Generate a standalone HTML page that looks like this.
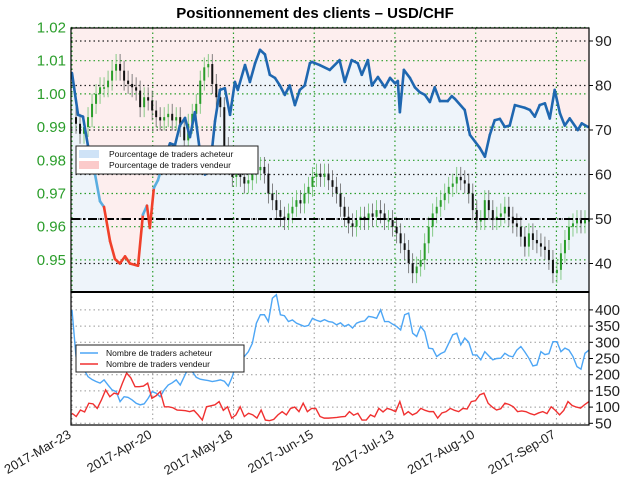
<!DOCTYPE html>
<html><head><meta charset="utf-8"><style>
body{margin:0;background:#fff;}
svg{display:block;font-family:"Liberation Sans",sans-serif;}
</style></head><body>
<svg id="c" width="624" height="488" viewBox="0 0 624 488" xmlns="http://www.w3.org/2000/svg">
<text x="315" y="18" text-anchor="middle" font-size="15" font-weight="bold">Positionnement des clients – USD/CHF</text>
<g id="g"></g>
</svg>
<script>
const dateLabels=["2017-Mar-23","2017-Apr-20","2017-May-18","2017-Jun-15","2017-Jul-13","2017-Aug-10","2017-Sep-07"];
const dateDays=[0,28,56,84,112,140,168];
const priceTicks=[1.02,1.01,1.00,0.99,0.98,0.97,0.96,0.95];
const pctTicks=[90,80,70,60,50,40];
const cntTicks=[400,350,300,250,200,150,100,50];
const closes=[.993,.991,.988,.990,.993,.997,1.000,1.002,1.002,1.004,1.007,1.009,1.007,1.004,1.003,1.002,1.001,.996,.999,.998,.995,.993,.992,.993,.994,.992,.993,.990,.986,.991,.994,.997,1.004,1.008,1.009,1.003,.999,.996,.984,.979,.975,.976,.975,.973,.974,.976,.977,.978,.976,.970,.968,.965,.963,.962,.964,.966,.968,.967,.970,.972,.975,.976,.975,.976,.974,.972,.970,.966,.963,.961,.960,.962,.963,.962,.964,.963,.965,.964,.962,.962,.960,.958,.955,.953,.949,.946,.948,.950,.955,.960,.964,.966,.968,.970,.972,.973,.975,.974,.973,.970,.965,.962,.962,.968,.965,.962,.963,.964,.966,.963,.961,.960,.957,.954,.958,.956,.955,.954,.953,.950,.946,.947,.952,.956,.960,.961,.962,.961,.962,.962];
const pctDays=[0,2.1,3.8,5.5,8,9.7,11.1,13.2,14.9,16.6,18.4,20.1,22.9,24.6,26,27,28.4,29.8,32.2,34,35.7,37.4,39.2,40.9,42.6,44.4,46.1,47.8,49.6,51.3,53,54.8,56.5,57.5,60,61.7,63.5,65.2,66.9,68.6,70.4,72.1,73.8,75.5,77.3,79,80.7,82.5,83.2,85.9,89.4,92.8,94.6,97,99.1,100.5,102.6,104,106.1,108.5,110.3,112,113,113.7,115.1,117.2,118.9,120.6,122.4,124.1,125.8,127.6,130.3,131.7,132.8,136.2,138,141.4,143.2,144.9,146.6,148.4,150.1,151.8,153.6,157,158.8,160.5,162.2,164,165.7,167.4,169.2,170.9,172.6,175.4,176.8,178.9];
const pctLong=[82.8,73.4,73,66.6,60,54,52.7,45,41,40,41.6,40,39.5,51,53,48,57,58.7,64,67,66.6,71,72.7,68.4,74,65,60,61,72,79,79.4,73.4,80.8,79,84.6,80.8,85,88,87,82.4,81.7,80,77.9,80,75.6,79,80,85,85.3,84.6,83.5,85.7,80.8,85.7,85,82.4,85.7,80,81.9,79.6,81.7,80.5,81,74,83.5,81.7,79.6,78.5,77.9,76.3,79.6,76.5,76.5,77.6,77,74.5,68.9,66,64,68.9,72.2,72.5,70.7,71,75.6,75,74.5,73,75.6,76,72.6,79,73.8,71,72.6,70,71.5,70.7];
const buyers=[400,256,230,215,194,185,179,174,184,168,153,148,117,132,130,122,112,107,110,127,148,143,132,153,168,175,184,168,194,220,210,192,186,184,182,179,181,184,180,165,194,235,246,256,271,297,359,385,385,364,436,447,385,382,364,369,359,354,349,352,374,368,364,370,364,362,354,360,349,355,344,359,364,366,380,378,374,400,364,364,356,349,338,385,390,328,318,349,333,282,280,256,265,271,297,323,328,292,313,300,261,261,246,271,258,246,250,251,266,258,255,276,287,270,251,227,230,271,262,265,302,302,271,282,276,256,225,217,266,276];
const sellers=[81,71,91,85,112,110,96,122,153,132,143,140,174,205,190,163,163,165,174,127,135,148,101,101,98,91,90,89,86,90,76,60,101,104,107,117,90,101,66,76,101,71,81,76,66,91,60,58,62,76,86,76,96,100,86,112,86,96,96,71,66,66,67,68,70,71,86,75,81,60,60,76,70,96,85,96,92,86,117,76,86,76,82,96,90,86,86,66,82,86,96,90,86,96,94,117,120,138,143,112,100,91,95,112,108,101,86,88,86,80,76,82,86,80,101,90,76,90,117,105,100,97,108,117];

const L=71,R=589,T=28,M=292,B=425,DAYS=179.3;
const xDay=d=>L+1+d*(R-L-1)/DAYS;
const xIdx=(i,n)=>xDay(i*DAYS/(n-1));
const yPrice=p=>27.5+(1.02-p)/0.01*33.2;
const yPct=v=>219-(v-50)*4.45;
const yCnt=v=>423.3-(v-50)*0.324;
const g=document.getElementById('g');
const NS="http://www.w3.org/2000/svg";
function mk(tag,attrs,parent){const e=document.createElementNS(NS,tag);for(const k in attrs)e.setAttribute(k,attrs[k]);(parent||g).appendChild(e);return e;}

let up=`M${xDay(pctDays[0])},${T}`,dn=`M${xDay(pctDays[0])},${M}`;
pctLong.forEach((v,i)=>{const x=xDay(pctDays[i]),y=yPct(v);up+=` L${x},${y}`;dn+=` L${x},${y}`;});
up+=` L${R},${T} Z`;dn+=` L${R},${M} Z`;
let e=mk('path',{d:up,fill:'#fdeeee'});

e=mk('path',{d:dn,fill:'#eef4fa'});


priceTicks.forEach(p=>{const y=yPrice(p);
 e=mk('line',{x1:L,x2:R,y1:y,y2:y,stroke:'#2a9d2a','stroke-width':1.2,'stroke-dasharray':'1.5,3'});
 
 e=mk('text',{x:66,y:y+5,'text-anchor':'end','font-size':15,fill:'#2a9d2a'});e.textContent=p.toFixed(2);
 
});
pctTicks.forEach(v=>{const y=yPct(v);
 e=mk('line',{x1:L,x2:R,y1:y,y2:y,stroke:'#222','stroke-width':1.2,'stroke-dasharray':'1.5,3'});
 
 mk('line',{x1:R,x2:R+4,y1:y,y2:y,stroke:'#000'});
 e=mk('text',{x:595,y:y+5,'font-size':15,fill:'#222'});e.textContent=v;
 
});
dateDays.forEach((d,i)=>{const x=xDay(d);
 e=mk('line',{x1:x,x2:x,y1:T,y2:M,stroke:'#2a9d2a','stroke-width':1.2,'stroke-dasharray':'1.5,3'});
 
 e=mk('line',{x1:x,x2:x,y1:M,y2:B,stroke:'#999','stroke-width':1,'stroke-dasharray':'1.5,3'});
 
 e=mk('text',{x:x,y:437,'text-anchor':'end','font-size':13,fill:'#222',transform:`rotate(-30 ${x} 437)`});e.textContent=dateLabels[i];
 
});
cntTicks.forEach(v=>{const y=yCnt(v);
 e=mk('line',{x1:L,x2:R,y1:y,y2:y,stroke:'#999','stroke-width':1,'stroke-dasharray':'1.5,3'});
 
 mk('line',{x1:R,x2:R+4,y1:y,y2:y,stroke:'#000'});
 e=mk('text',{x:595,y:y+5,'font-size':15,fill:'#222'});e.textContent=v;
 
});

closes.forEach((c,i)=>{if(i===0)return;const o=closes[i-1];const x=xIdx(i,closes.length);
 const col=c>=o?'#2a9d2a':'#111';
 const hi=Math.max(o,c)+0.003,lo=Math.min(o,c)-0.003;
 e=mk('line',{x1:x,x2:x,y1:yPrice(hi),y2:yPrice(lo),stroke:col==='#111'?'#666':'#6cc06c','stroke-width':0.8});
 
 const y1=yPrice(Math.max(o,c)),y2=yPrice(Math.min(o,c));
 e=mk('rect',{x:x-1,y:y1,width:2,height:Math.max(1.5,y2-y1),fill:col});
 
});
e=mk('line',{x1:L,x2:R,y1:yPct(50),y2:yPct(50),stroke:'#000','stroke-width':2,'stroke-dasharray':'9,3,2,3'});

for(let i=1;i<pctLong.length;i++){const a=pctLong[i-1],b=pctLong[i];
 const col=(Math.min(a,b)<49.5)?'#f0402a':(Math.min(a,b)<60?'#5aaee0':'#1f67b0');
 e=mk('line',{x1:xDay(pctDays[i-1]),y1:yPct(a),x2:xDay(pctDays[i]),y2:yPct(b),stroke:col,'stroke-width':2.6,'stroke-linecap':'round'});
 
}
function poly(arr,col,name){let d='';arr.forEach((v,i)=>{d+=(i?' L':'M')+xIdx(i,arr.length)+','+yCnt(v);});
 const p=mk('path',{d:d,fill:'none',stroke:col,'stroke-width':1.4});
 }
poly(buyers,'#4da6f5','buyers-line');
poly(sellers,'#f03030','sellers-line');

e=mk('rect',{x:L,y:T,width:R-L,height:M-T,fill:'none',stroke:'#000','stroke-width':1.2});

e=mk('rect',{x:L,y:M,width:R-L,height:B-M,fill:'none',stroke:'#000','stroke-width':1.2});

mk('line',{x1:L,x2:R,y1:M,y2:M,stroke:'#000','stroke-width':2});

function legend(x,y,w,h,items,name,patch){
 const lg=mk('g',{});
 mk('rect',{x:x,y:y,width:w,height:h,fill:'#fff',stroke:'#222','stroke-width':1},lg);
 items.forEach((it,i)=>{const yy=y+8+i*11;
  if(patch)mk('rect',{x:x+3,y:yy-4,width:20,height:8,fill:it[1]},lg);
  else mk('line',{x1:x+4,x2:x+22,y1:yy,y2:yy,stroke:it[1],'stroke-width':1.5},lg);
  const t=mk('text',{x:x+(patch?33:30),y:yy+3,'font-size':8.5,fill:'#111'},lg);t.textContent=it[0];
  });
}
legend(76,146,182,28,[["Pourcentage de traders acheteur","#cfe3f7"],["Pourcentage de traders vendeur","#fbcaca"]],'top-legend',true);
legend(76,345,168,27,[["Nombre de traders acheteur","#4da6f5"],["Nombre de traders vendeur","#f03030"]],'bottom-legend',false);
</script>
</body></html>
